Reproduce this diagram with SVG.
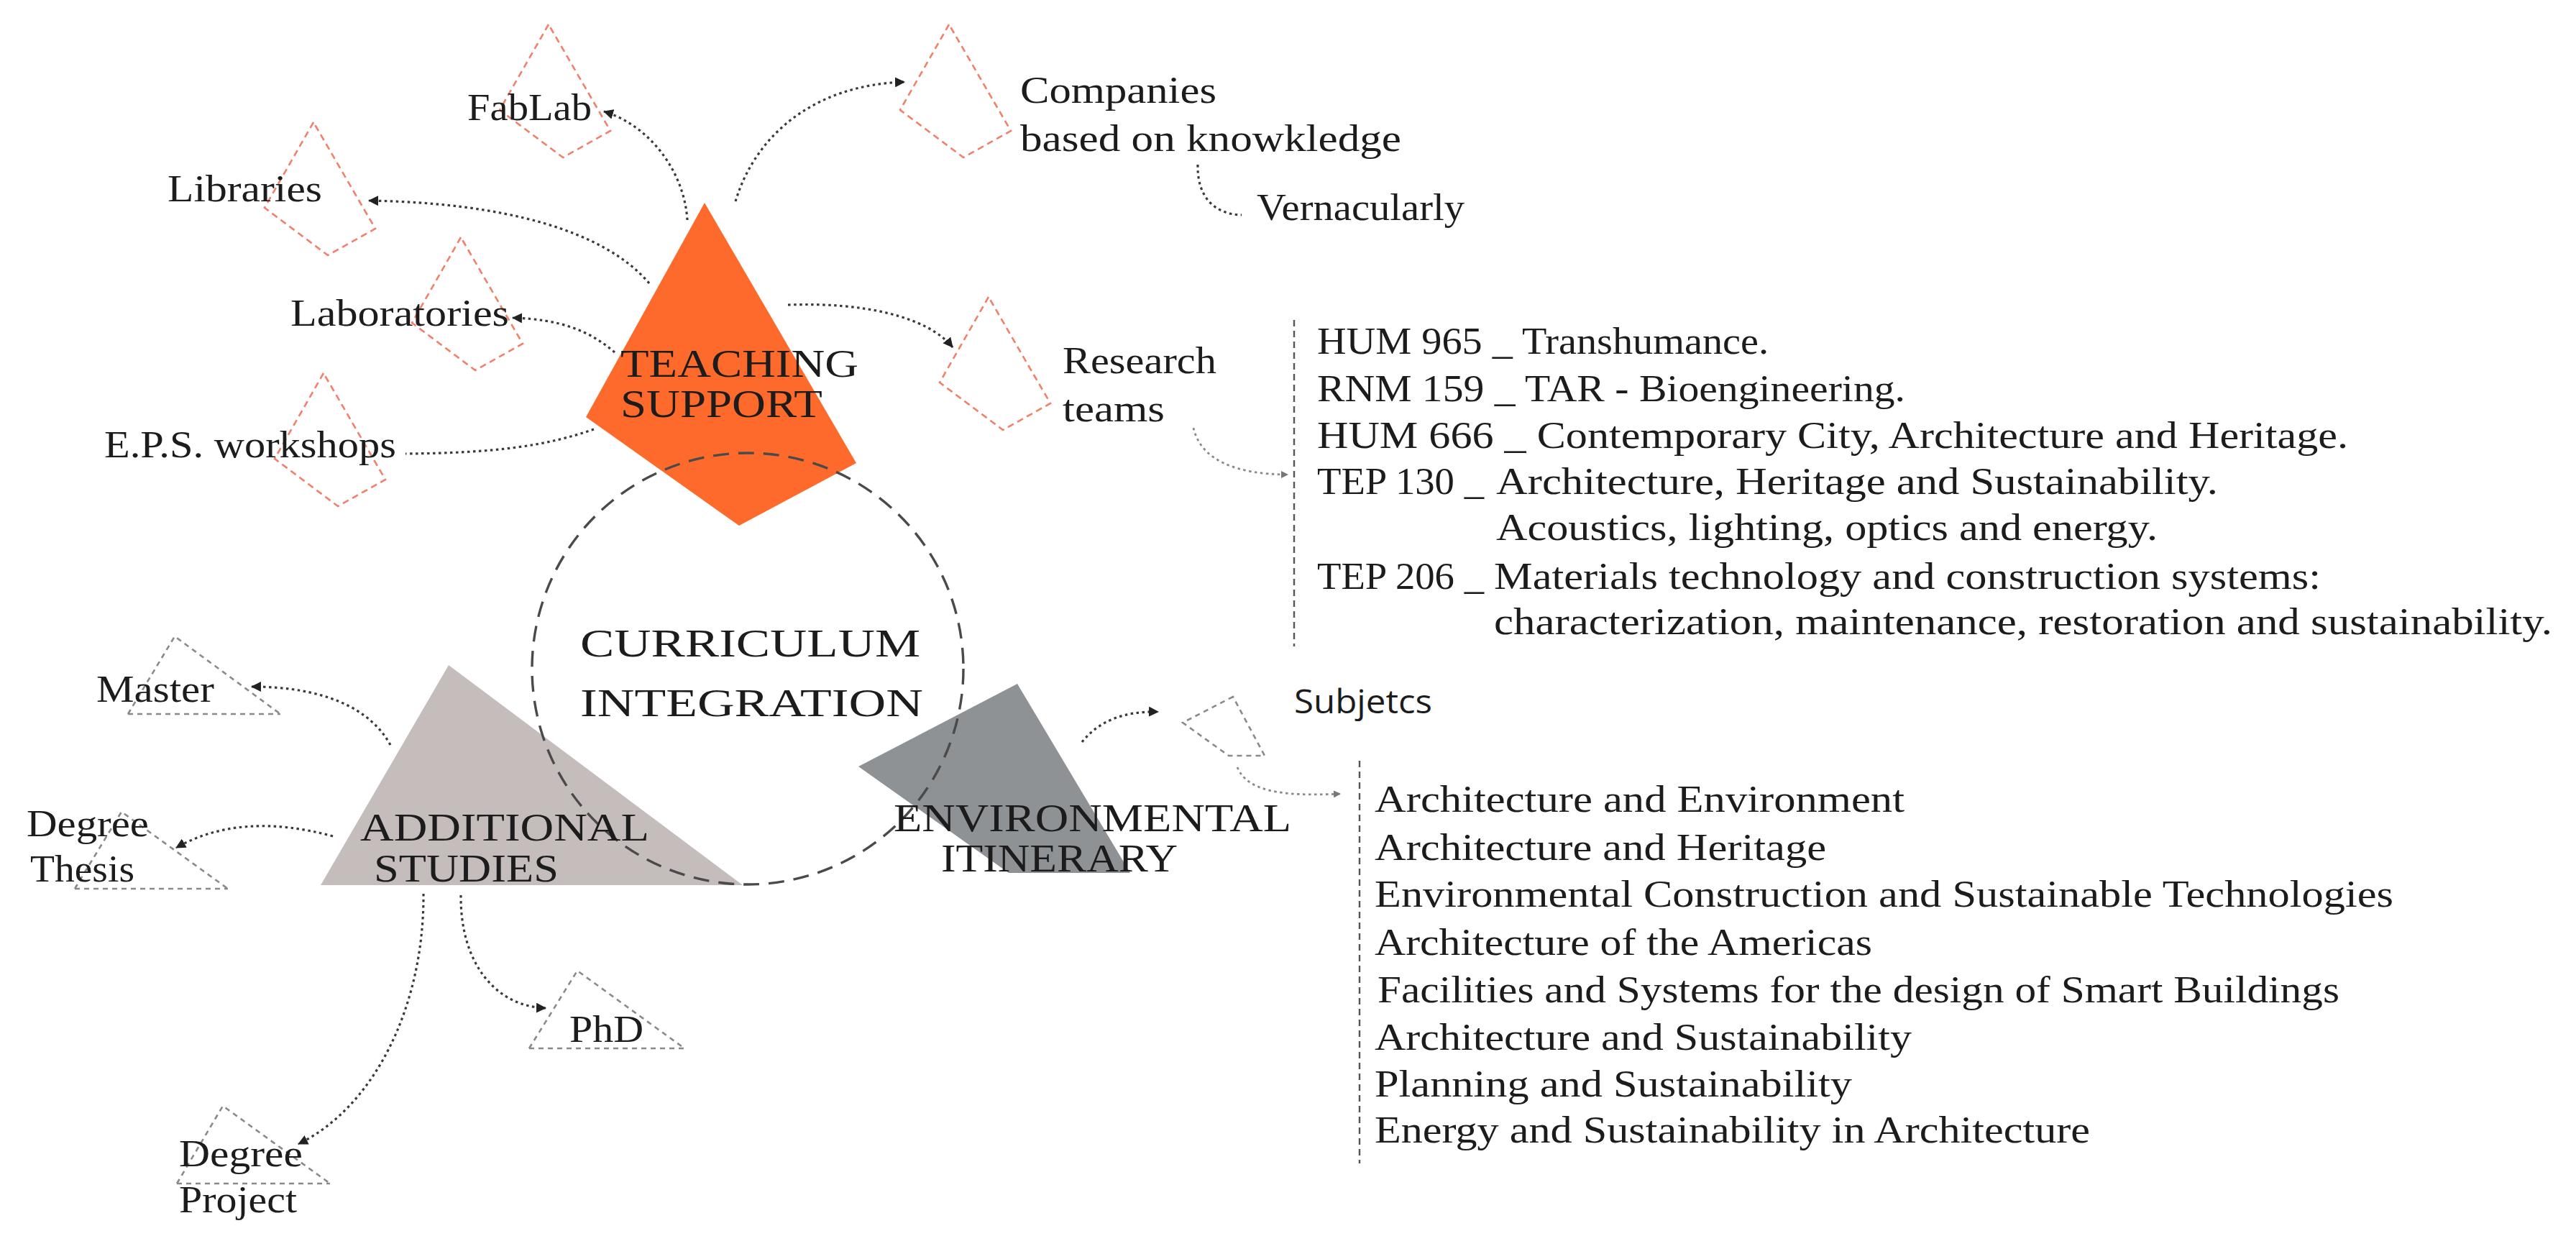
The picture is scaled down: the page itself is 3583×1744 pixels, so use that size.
<svg xmlns="http://www.w3.org/2000/svg" width="3583" height="1744" viewBox="0 0 3583 1744">
<defs>
<style>
.t{font-family:"Liberation Serif","Times New Roman",serif;fill:#1c1c1c;font-size:53px}
.big{font-size:54px}
.sans{font-family:"Open Sans","Liberation Sans",sans-serif;fill:#1c1c1c;font-size:46px}
.kite{fill:none;stroke:#F2806A;stroke-width:2.6;stroke-dasharray:9 6}
.tri{fill:none;stroke:#8a8a8a;stroke-width:2.6;stroke-dasharray:7 6}
.con{fill:none;stroke:#3a3a3a;stroke-width:3.2;stroke-dasharray:3.5 4.5}
.conl{fill:none;stroke:#8a8a8a;stroke-width:2.8;stroke-dasharray:3.5 4.5}
.vl{fill:none;stroke:#555;stroke-width:2.4;stroke-dasharray:9 6}
</style>
<marker id="arr" markerUnits="userSpaceOnUse" markerWidth="16" markerHeight="14" refX="13" refY="7" orient="auto">
<path d="M0,0 L14,7 L0,14 z" fill="#222"/>
</marker>
<marker id="arrs" markerUnits="userSpaceOnUse" markerWidth="12" markerHeight="10" refX="10" refY="5" orient="auto">
<path d="M0,0 L10,5 L0,10 z" fill="#777"/>
</marker>
<path id="kiteShape" d="M0,0 L-68,119 L20,185 L86,148 Z"/>
</defs>

<g id="satellites">
<g id="kite-fablab"><use href="#kiteShape" class="kite" transform="translate(763,34)"/></g>
<g id="kite-libraries"><use href="#kiteShape" class="kite" transform="translate(436,170)"/></g>
<g id="kite-laboratories"><use href="#kiteShape" class="kite" transform="translate(641,330)"/></g>
<g id="kite-eps"><use href="#kiteShape" class="kite" transform="translate(450,519)"/></g>
<g id="kite-companies"><use href="#kiteShape" class="kite" transform="translate(1320,34)"/></g>
<g id="kite-research"><use href="#kiteShape" class="kite" transform="translate(1375,413)"/></g>

<g id="tri-master" transform="translate(243,885)"><path d="M-65,108 L0,0 L147,108" class="tri"/><path d="M-65,108 L147,108" class="tri" stroke-dasharray="3 4"/></g>
<g id="tri-thesis" transform="translate(169,1129)"><path d="M-65,107 L0,0 L148,107" class="tri"/><path d="M-65,107 L148,107" class="tri" stroke-dasharray="3 4"/></g>
<g id="tri-phd" transform="translate(803,1350)"><path d="M-67,108 L0,0 L149,108" class="tri"/><path d="M-67,108 L149,108" class="tri" stroke-dasharray="3 4"/></g>
<g id="tri-project" transform="translate(310,1538)"><path d="M-64,108 L0,0 L149,108" class="tri"/><path d="M-64,108 L149,108" class="tri" stroke-dasharray="3 4"/></g>

<g id="quad-subjetcs"><path d="M1715,969 L1645,1005 L1709,1051 L1759,1051 Z" class="tri" stroke-dasharray="6 5"/></g>
</g>

<g id="teaching-support">
<polygon points="980,282 815,580 1028,731 1191,644" fill="#FE6A2B"/>
</g>
<g id="additional-studies">
<polygon points="624,925 446,1231 1033,1231" fill="#C4BDBC"/>
</g>
<g id="environmental-itinerary">
<polygon points="1415,951 1194,1066 1403,1214 1572,1214" fill="#8F9295"/>
</g>

<g id="curriculum-integration">
<circle cx="1040" cy="930" r="300" fill="none" stroke="#4a4a4a" stroke-width="3.4" stroke-dasharray="22 13"/>
</g>

<g id="connectors">
<path class="con" d="M956,306 C952,240 905,175 840,155" marker-end="url(#arr)"/>
<path class="con" d="M903,394 C840,320 700,282 513,279" marker-end="url(#arr)"/>
<path class="con" d="M855,490 C820,460 780,444 713,442" marker-end="url(#arr)"/>
<path class="con" d="M826,597 C760,620 690,630 564,631"/>
<path class="con" d="M1023,280 C1050,190 1130,118 1258,114" stroke-dasharray="6 7" marker-end="url(#arr)"/>
<path class="con" d="M1666,229 C1665,275 1690,298 1727,299" stroke="#666"/>
<path class="con" d="M1096,424 C1200,420 1290,440 1325,483" marker-end="url(#arr)"/>
<path class="conl" d="M1660,595 C1670,640 1720,660 1792,660" marker-end="url(#arrs)"/>
<path class="con" d="M543,1036 C515,985 450,955 350,955" marker-end="url(#arr)"/>
<path class="con" d="M463,1163 Q335,1128 245,1179" marker-end="url(#arr)"/>
<path class="con" d="M641,1245 C640,1340 690,1400 759,1402" marker-end="url(#arr)"/>
<path class="con" d="M589,1243 C590,1400 520,1540 415,1591" marker-end="url(#arr)"/>
<path class="con" d="M1505,1032 Q1540,988 1611,990" marker-end="url(#arr)"/>
<path class="conl" d="M1721,1067 C1735,1100 1780,1108 1865,1104" marker-end="url(#arrs)"/>
<path class="vl" d="M1800,445 L1800,899"/>
<path class="vl" d="M1891,1058 L1891,1618"/>
</g>

<g id="labels">
<text class="t big" x="863" y="524" textLength="331" lengthAdjust="spacingAndGlyphs">TEACHING</text>
<text class="t big" x="863" y="580" textLength="281" lengthAdjust="spacingAndGlyphs">SUPPORT</text>
<text class="t big" x="807" y="913" font-size="64" textLength="473" lengthAdjust="spacingAndGlyphs">CURRICULUM</text>
<text class="t big" x="807" y="996" font-size="64" textLength="477" lengthAdjust="spacingAndGlyphs">INTEGRATION</text>
<text class="t big" x="501" y="1169" font-size="56" textLength="402" lengthAdjust="spacingAndGlyphs">ADDITIONAL</text>
<text class="t big" x="520" y="1226" font-size="56" textLength="257" lengthAdjust="spacingAndGlyphs">STUDIES</text>
<text class="t big" x="1243" y="1156" font-size="55" textLength="553" lengthAdjust="spacingAndGlyphs">ENVIRONMENTAL</text>
<text class="t big" x="1309" y="1212" font-size="55" textLength="329" lengthAdjust="spacingAndGlyphs">ITINERARY</text>

<text class="t" x="650" y="167" textLength="173" lengthAdjust="spacingAndGlyphs">FabLab</text>
<text class="t" x="233" y="280" textLength="215" lengthAdjust="spacingAndGlyphs">Libraries</text>
<text class="t" x="404" y="453" textLength="304" lengthAdjust="spacingAndGlyphs">Laboratories</text>
<text class="t" x="145" y="636" textLength="406" lengthAdjust="spacingAndGlyphs">E.P.S. workshops</text>
<text class="t" x="1419" y="143" textLength="273" lengthAdjust="spacingAndGlyphs">Companies</text>
<text class="t" x="1419" y="210" textLength="530" lengthAdjust="spacingAndGlyphs">based on knowkledge</text>
<text class="t" x="1748" y="306" textLength="289" lengthAdjust="spacingAndGlyphs">Vernacularly</text>
<text class="t" x="1478" y="519" textLength="214" lengthAdjust="spacingAndGlyphs">Research</text>
<text class="t" x="1478" y="586" textLength="142" lengthAdjust="spacingAndGlyphs">teams</text>
<text class="t" x="134" y="976" textLength="164" lengthAdjust="spacingAndGlyphs">Master</text>
<text class="t" x="37" y="1163" textLength="170" lengthAdjust="spacingAndGlyphs">Degree</text>
<text class="t" x="42" y="1226" textLength="145" lengthAdjust="spacingAndGlyphs">Thesis</text>
<text class="t" x="792" y="1449" textLength="103" lengthAdjust="spacingAndGlyphs">PhD</text>
<text class="t" x="249" y="1622" textLength="172" lengthAdjust="spacingAndGlyphs">Degree</text>
<text class="t" x="249" y="1686" textLength="164" lengthAdjust="spacingAndGlyphs">Project</text>
<text class="sans" x="1800" y="992" textLength="192" lengthAdjust="spacingAndGlyphs">Subjetcs</text>
</g>

<g id="research-list">
<text class="t" x="1832" y="492" textLength="628" lengthAdjust="spacingAndGlyphs">HUM 965 _ Transhumance.</text>
<text class="t" x="1832" y="558" textLength="818" lengthAdjust="spacingAndGlyphs">RNM 159 _ TAR - Bioengineering.</text>
<text class="t" x="1832" y="623" textLength="1434" lengthAdjust="spacingAndGlyphs">HUM 666 _ Contemporary City, Architecture and Heritage.</text>
<text class="t" x="1832" y="687" textLength="232" lengthAdjust="spacingAndGlyphs">TEP 130 _</text>
<text class="t" x="2081" y="687" textLength="1004" lengthAdjust="spacingAndGlyphs">Architecture, Heritage and Sustainability.</text>
<text class="t" x="2081" y="751" textLength="920" lengthAdjust="spacingAndGlyphs">Acoustics, lighting, optics and energy.</text>
<text class="t" x="1832" y="819" textLength="232" lengthAdjust="spacingAndGlyphs">TEP 206 _</text>
<text class="t" x="2078" y="819" textLength="1150" lengthAdjust="spacingAndGlyphs">Materials technology and construction systems:</text>
<text class="t" x="2078" y="882" textLength="1472" lengthAdjust="spacingAndGlyphs">characterization, maintenance, restoration and sustainability.</text>
</g>

<g id="subjects-list">
<text class="t" x="1912" y="1129" textLength="737" lengthAdjust="spacingAndGlyphs">Architecture and Environment</text>
<text class="t" x="1912" y="1196" textLength="628" lengthAdjust="spacingAndGlyphs">Architecture and Heritage</text>
<text class="t" x="1912" y="1261" textLength="1417" lengthAdjust="spacingAndGlyphs">Environmental Construction and Sustainable Technologies</text>
<text class="t" x="1912" y="1328" textLength="692" lengthAdjust="spacingAndGlyphs">Architecture of the Americas</text>
<text class="t" x="1916" y="1394" textLength="1338" lengthAdjust="spacingAndGlyphs">Facilities and Systems for the design of Smart Buildings</text>
<text class="t" x="1912" y="1460" textLength="747" lengthAdjust="spacingAndGlyphs">Architecture and Sustainability</text>
<text class="t" x="1912" y="1525" textLength="664" lengthAdjust="spacingAndGlyphs">Planning and Sustainability</text>
<text class="t" x="1912" y="1589" textLength="995" lengthAdjust="spacingAndGlyphs">Energy and Sustainability in Architecture</text>
</g>
</svg>
